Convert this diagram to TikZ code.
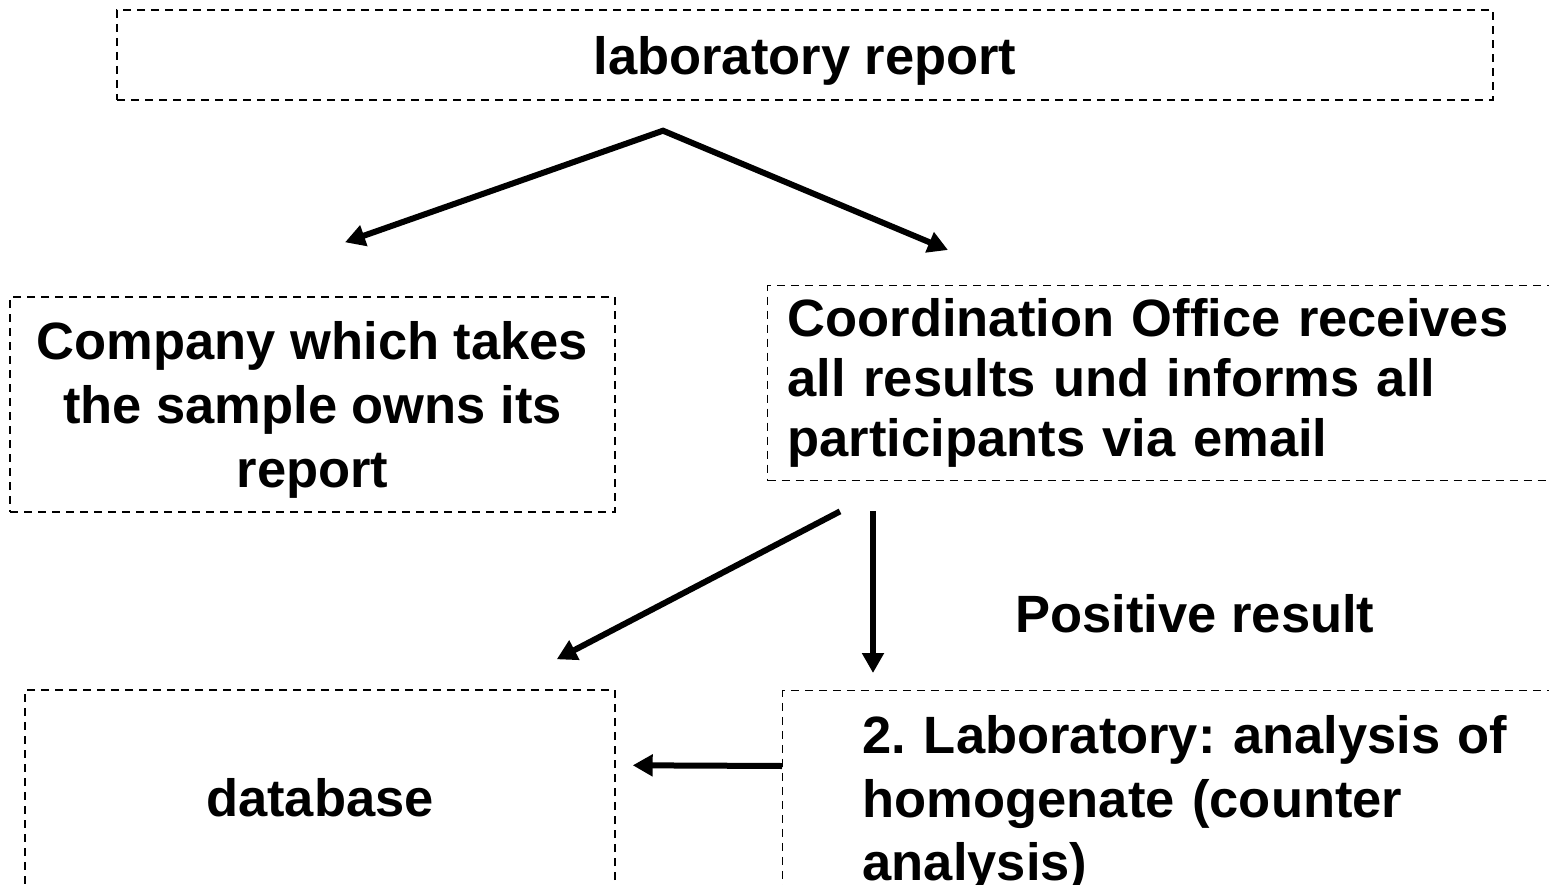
\documentclass[tikz,border=0pt]{standalone}
\usepackage{fontspec}
\setmainfont{Liberation Sans}
\usetikzlibrary{arrows.meta}

\tikzset{
    dashbox/.style={draw, line width=1.4pt, dash pattern=on 8pt off 6pt,
        font=\fontsize{52.5}{64}\selectfont\bfseries\frenchspacing, inner sep=0pt},
    flow/.style={line width=6pt, line join=miter, -{Triangle[length=20pt,width=21pt]}},
    twoflow/.style={line width=6pt, line join=miter,
        {Triangle[length=20pt,width=21pt]}-{Triangle[length=20pt,width=21pt]}}
}

\begin{document}
\begin{tikzpicture}[x=1pt, y=-1pt]
    \useasboundingbox (0, 0) rectangle (1549, 885);

    \node [dashbox, minimum width=1376, minimum height=90, text depth=0pt] (report) at (805, 55) {laboratory report};
    \node [dashbox, minimum width=605, minimum height=215, align=center, text depth=0pt] (company) at (312.5, 404.5)
        {Company which takes\\ the sample owns its\\ report};
    \node [dashbox, anchor=north west, text width=760, inner xsep=20pt, minimum height=195,
        align=left, font=\fontsize{52.5}{60}\selectfont\bfseries\frenchspacing] (office) at (767, 285)
        {Coordination Office receives\\ all results und informs all\\ participants via email};
    \node [dashbox, minimum width=590, minimum height=216] (database) at (320, 798) {database};
    \node [dashbox, anchor=north west, text width=680, inner xsep=80pt, inner ysep=25pt,
        align=left, font=\fontsize{52.5}{63.5}\selectfont\bfseries\frenchspacing] (lab) at (782, 690)
        {2. Laboratory: analysis of\\ homogenate (counter\\ analysis)};
    \node [font=\fontsize{52.5}{64}\selectfont\bfseries] (positive) at (1195, 614) {Positive result};

    \coordinate (split) at ([xshift=-142pt, yshift=-30pt]report.south);
    \coordinate (tocompany) at ([xshift=32.5pt, yshift=54pt]company.north);
    \coordinate (tooffice) at ([xshift=181pt, yshift=35pt]office.north west);
    \draw [twoflow] (tocompany) -- (split) -- (tooffice);

    \coordinate (fromoffice1) at ([xshift=73pt, yshift=-30pt]office.south west);
    \coordinate (todatabase) at ([xshift=-59pt, yshift=30pt]database.north east);
    \draw [flow] (fromoffice1) -- (todatabase);

    \coordinate (fromoffice2) at ([xshift=106pt, yshift=-30pt]office.south west);
    \coordinate (tolab) at ([xshift=91pt, yshift=17pt]lab.north west);
    \draw [flow] (fromoffice2) -- (tolab);

    \coordinate (fromlab) at ([yshift=-76pt]lab.north west);
    \coordinate (todb) at ([xshift=17pt, yshift=-76pt]database.north east);
    \draw [flow] (fromlab) -- (todb);
\end{tikzpicture}
\end{document}
